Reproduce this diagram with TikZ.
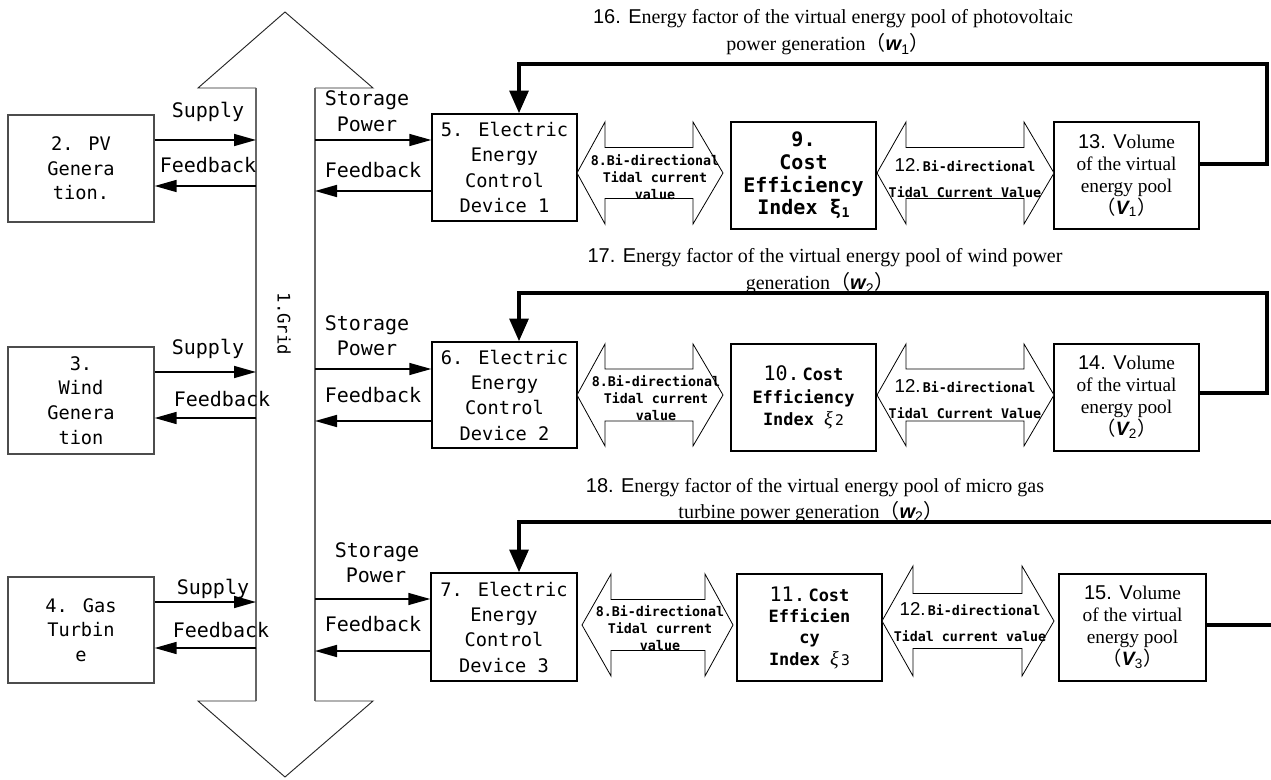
\documentclass[tikz,border=0pt]{standalone}
\usepackage{fontspec}
\setmainfont{Liberation Serif}
\setsansfont{Liberation Sans}
\newfontfamily\hei{DejaVu Sans Mono}
\newfontfamily\cjk{Noto Sans CJK SC}
\usetikzlibrary{arrows.meta}
\newcommand\mydbl[7]{%
\draw[dbl] (#1,#5) -- (#2,#5-#6) -- (#2,#5-#7) -- (#3,#5-#7) -- (#3,#5-#6) -- (#4,#5) -- (#3,#5+#6) -- (#3,#5+#7) -- (#2,#5+#7) -- (#2,#5+#6) -- cycle;}
\newcommand\vsub[2]{{\cjk （}{\sffamily\bfseries\itshape #1}{\sffamily\textsubscript{#2}}{\cjk ）}}
\tikzset{
 genbox/.style={draw=black!70, line width=1pt, minimum width=146*0.75pt, minimum height=107*0.75pt, inner sep=0pt, align=center, font=\hei\fontsize{14}{18.5}\selectfont},
 ctlbox/.style={draw=black, line width=1.1pt, minimum width=145*0.75pt, minimum height=107*0.75pt, inner sep=0pt, align=center, font=\hei\fontsize{14}{19}\selectfont},
 costboxA/.style={draw=black, line width=1.1pt, minimum width=145*0.75pt, minimum height=107*0.75pt, inner sep=0pt, align=center, font=\hei\bfseries\fontsize{15}{17}\selectfont},
 costbox/.style={draw=black, line width=1.1pt, minimum width=145*0.75pt, minimum height=107*0.75pt, inner sep=0pt, align=center, font=\hei\bfseries\fontsize{12.7}{17}\selectfont},
 volbox/.style={draw=black, line width=1.1pt, minimum width=145*0.75pt, minimum height=107*0.75pt, inner sep=0pt, align=center, font=\rmfamily\fontsize{14.5}{16.5}\selectfont},
 lab/.style={font=\hei\fontsize{15}{15}\selectfont, inner sep=0pt, anchor=base},
 dbltext/.style={font=\hei\bfseries\fontsize{10}{12.75}\selectfont, align=center, inner sep=0pt},
 dbltextB/.style={font=\hei\bfseries\fontsize{10}{19.5}\selectfont, align=center, inner sep=0pt},
 title/.style={font=\rmfamily\fontsize{15}{15}\selectfont, inner sep=0pt, anchor=base},
 sarr/.style={line width=1.2pt, -{Triangle[length=16.5pt,width=9pt]}},
 fbloop/.style={line width=3pt, -{Triangle[length=17pt,width=14pt]}},
 dbl/.style={draw=black, line width=0.6pt, fill=white},
 gridhead/.style={draw=black!85, line width=0.7pt},
 gridshaft/.style={draw=black!60, line width=1pt},
}
\begin{document}
\begin{tikzpicture}[x=0.75pt,y=-0.75pt]
\useasboundingbox (0,0) rectangle (1271,780);
\fill[white] (0,0) rectangle (1271,780);
% grid arrow
\draw[gridhead] (256,88) -- (198,88) -- (285,12) -- (373,88) -- (315,88);
\draw[gridhead] (256,701) -- (198,701) -- (285,777) -- (373,701) -- (315,701);
\draw[gridshaft] (256,88) -- (256,701);
\draw[gridshaft] (315,88) -- (315,701);
\node[rotate=-90, font=\hei\fontsize{13}{13}\selectfont, inner sep=0pt] (grid) at (284,324) {1.Grid};
\coordinate (gl1s) at (256,140); \coordinate (gl1f) at (256,186);
\coordinate (gl2s) at (256,372); \coordinate (gl2f) at (256,418);
\coordinate (gl3s) at (256,602); \coordinate (gl3f) at (256,648);
\coordinate (gr1s) at (315,140); \coordinate (gr1f) at (315,191);
\coordinate (gr2s) at (315,369); \coordinate (gr2f) at (315,421);
\coordinate (gr3s) at (315,599); \coordinate (gr3f) at (315,651);
% generation boxes
\node[genbox] (b2) at (81,168.5) {2. PV\\Genera\\tion.};
\node[genbox] (b3) at (81,400.5) {3.\\Wind\\Genera\\tion};
\node[genbox, minimum height=106*0.75pt] (b4) at (81,630) {4. Gas\\Turbin\\e};
% control boxes
\node[ctlbox] (b5) at (504.5,167.5) {5. Electric\\Energy\\Control\\Device 1};
\node[ctlbox, minimum height=106*0.75pt] (b6) at (504.5,395) {6. Electric\\Energy\\Control\\Device 2};
\node[ctlbox, minimum width=146*0.75pt, minimum height=108*0.75pt] (b7) at (504,627) {7. Electric\\Energy\\Control\\Device 3};
% cost boxes
\node[costboxA] (b9) at (803.5,175.5) {9.\\Cost\\Efficiency\\Index ξ{\fontsize{10}{10}\selectfont\raisebox{-2pt}{1}}};
\node[costbox] (b10) at (803.5,397.5) {{\mdseries\fontsize{15}{15}\selectfont 10.}\,Cost\\Efficiency\\Index {\rmfamily\mdseries\itshape\fontsize{15}{15}\selectfont ξ}{\mdseries\fontsize{11}{11}\selectfont\,2}};
\node[costbox, font=\hei\bfseries\fontsize{12.7}{16}\selectfont] (b11) at (809.5,627.5) {{\mdseries\fontsize{15}{15}\selectfont 11.}\,Cost\\Efficien\\cy\\Index {\rmfamily\mdseries\itshape\fontsize{15}{15}\selectfont ξ}{\mdseries\fontsize{11}{11}\selectfont\,3}};
% volume boxes
\node[volbox] (b13) at (1126.5,175.5) {{\sffamily\fontsize{15}{15}\selectfont 13. V}olume\\of the virtual\\energy pool\\\vsub{V}{1}};
\node[volbox] (b14) at (1126.5,397.5) {{\sffamily\fontsize{15}{15}\selectfont 14. V}olume\\of the virtual\\energy pool\\\vsub{V}{2}};
\node[volbox, minimum width=147*0.75pt] (b15) at (1132.5,627.5) {{\sffamily\fontsize{15}{15}\selectfont 15. V}olume\\of the virtual\\energy pool\\\vsub{V}{3}};
% supply / feedback (left)
\draw[sarr] (b2.east |- gl1s) -- (gl1s);
\draw[sarr] (gl1f) -- (b2.east |- gl1f);
\draw[sarr] (b3.east |- gl2s) -- (gl2s);
\draw[sarr] (gl2f) -- (b3.east |- gl2f);
\draw[sarr] (b4.east |- gl3s) -- (gl3s);
\draw[sarr] (gl3f) -- (b4.east |- gl3f);
\node[lab] (s1) at (208,118) {Supply};
\node[lab] (f1) at (208,173) {Feedback};
\node[lab] (s2) at (208,355) {Supply};
\node[lab] (f2) at (222,407) {Feedback};
\node[lab] (s3) at (213,594) {Supply};
\node[lab] (f3) at (221,637) {Feedback};
% storage / feedback (right)
\draw[sarr] (gr1s) -- (b5.west |- gr1s);
\draw[sarr] (b5.west |- gr1f) -- (gr1f);
\draw[sarr] (gr2s) -- (b6.west |- gr2s);
\draw[sarr] (b6.west |- gr2f) -- (gr2f);
\draw[sarr] (gr3s) -- (b7.west |- gr3s);
\draw[sarr] (b7.west |- gr3f) -- (gr3f);
\node[lab] (st1) at (367,106) {Storage};
\node[lab] (p1) at (367,132) {Power};
\node[lab] (rf1) at (373,178) {Feedback};
\node[lab] (st2) at (367,331) {Storage};
\node[lab] (p2) at (367,356) {Power};
\node[lab] (rf2) at (373,403) {Feedback};
\node[lab] (st3) at (377,557) {Storage};
\node[lab] (p3) at (376,582) {Power};
\node[lab] (rf3) at (373,631) {Feedback};
% bidirectional arrows 8
\mydbl{577}{605}{693}{723}{173}{51}{25.5}
\mydbl{577}{605}{693}{723}{395}{51}{26}
\mydbl{582}{611}{705}{733}{625}{51}{25.5}
\node[dbltext] (d81) at (655,177) {8.Bi-directional\\Tidal current\\value};
\node[dbltext] (d82) at (656,398) {8.Bi-directional\\Tidal current\\value};
\node[dbltext] (d83) at (660,628) {8.Bi-directional\\Tidal current\\value};
% bidirectional arrows 12
\mydbl{877}{906}{1024}{1054}{173}{51}{25.5}
\mydbl{877}{906}{1024}{1054}{395}{51}{26}
\mydbl{882}{913}{1022}{1054}{621}{55}{27.5}
\node[dbltextB] (d121) at (965,178) {{\mdseries\sffamily\fontsize{14}{14}\selectfont 12.}\,Bi-directional\\Tidal Current Value};
\node[dbltextB] (d122) at (965,399) {{\mdseries\sffamily\fontsize{14}{14}\selectfont 12.}\,Bi-directional\\Tidal Current Value};
\node[dbltextB] (d123) at (970,622) {{\mdseries\sffamily\fontsize{14}{14}\selectfont 12.}\,Bi-directional\\Tidal current value};
% feedback loops
\coordinate (c1) at (1267,64);
\coordinate (c2) at (1267,293);
\coordinate (e3) at (1273,522);
\coordinate (e3b) at (1273,625);
\draw[fbloop] (b13.east |- 0,164) -- (c1 |- 0,164) -- (c1) -- (519,64) -- (519,0 |- b5.north);
\draw[fbloop] (b14.east |- 0,393) -- (c2 |- 0,393) -- (c2) -- (519,293) -- (519,0 |- b6.north);
\draw[fbloop] (e3) -- (519,522) -- (519,0 |- b7.north);
\draw[line width=3pt] (b15.east |- e3b) -- (e3b);
% titles
\node[title] (t16a) at (833,24) {{\sffamily 16. E}nergy factor of the virtual energy pool of photovoltaic};
\node[title] (t16b) at (828,51) {power generation\vsub{w}{1}};
\node[title] (t17a) at (825,263) {{\sffamily 17. E}nergy factor of the virtual energy pool of wind power};
\node[title] (t17b) at (820,290) {generation\vsub{w}{2}};
\node[title] (t18a) at (815,492) {{\sffamily 18. E}nergy factor of the virtual energy pool of micro gas};
\node[title] (t18b) at (811,518) {turbine power generation\vsub{w}{2}};
\end{tikzpicture}
\end{document}
